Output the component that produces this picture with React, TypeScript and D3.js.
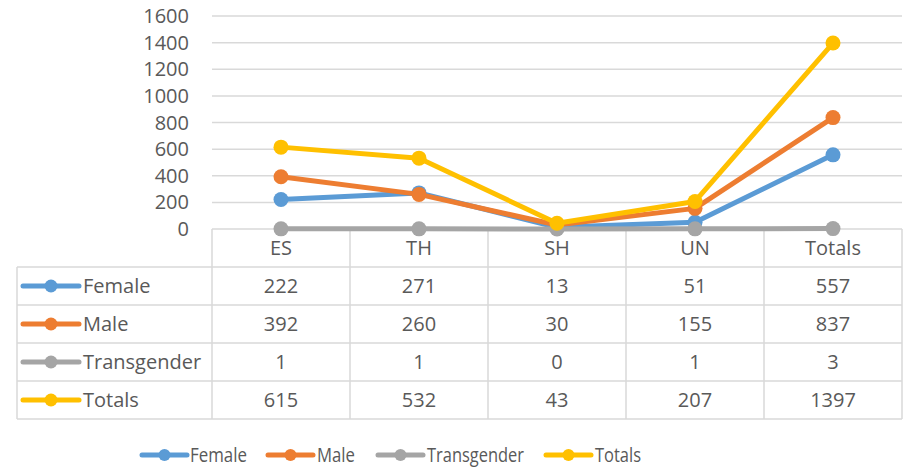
import React from "react";
import * as d3 from "d3";

const categories = ["ES", "TH", "SH", "UN", "Totals"];
const seriesNames = ["Female", "Male", "Transgender", "Totals"];
const female = [222, 271, 13, 51, 557];
const male = [392, 260, 30, 155, 837];
const transgender = [1, 1, 0, 1, 3];
const totals = [615, 532, 43, 207, 1397];
const yTicks = [0, 200, 400, 600, 800, 1000, 1200, 1400, 1600];
const colors = ["#5B9BD5", "#ED7D31", "#A5A5A5", "#FFC000"];

const W = 909;
const H = 471;
const FONT = "'Open Sans', sans-serif";
const TEXT = "#595959";
const GRID = "#D9D9D9";

export default function App() {
  const series = [female, male, transgender, totals];
  const x = d3.scaleBand<string>().domain(categories).range([212, 902]);
  const y = d3.scaleLinear().domain([0, 1600]).range([229, 16]);
  const line = d3
    .line<number>()
    .x((_, i) => (x(categories[i]) as number) + x.bandwidth() / 2)
    .y((d) => y(d));

  const headerTop = 229;
  const tableTop = 267;
  const rowH = 38;
  const tableLeft = 17;
  const tableRight = 902;
  const tableBottom = tableTop + rowH * series.length;

  const legendItems = [
    { x0: 142, tx: 190, tl: 57 },
    { x0: 268, tx: 317, tl: 38 },
    { x0: 378, tx: 427, tl: 97 },
    { x0: 546, tx: 595, tl: 46 },
  ];

  return (
    <div style={{ position: "absolute", left: 0, top: 0 }}>
      <svg width={W} height={H} style={{ display: "block", background: "#fff" }}>
        {yTicks.map((t) => (
          <line key={"g" + t} x1={212} x2={902} y1={y(t)} y2={y(t)} stroke={GRID} strokeWidth={1.5} />
        ))}
        {yTicks.map((t) => (
          <text
            key={"yl" + t}
            x={189}
            y={y(t)}
            dy="0.35em"
            textAnchor="end"
            fontFamily={FONT}
            fontSize={20}
            fill={TEXT}
          >
            {t}
          </text>
        ))}
        <g stroke={GRID} strokeWidth={1.5} fill="none">
          {categories.map((c, i) => (
            <line key={"v" + i} x1={x(c)} x2={x(c)} y1={headerTop} y2={tableBottom} />
          ))}
          <line x1={tableRight} x2={tableRight} y1={headerTop} y2={tableBottom} />
          <line x1={tableLeft} x2={tableLeft} y1={tableTop} y2={tableBottom} />
          {d3.range(series.length + 1).map((i) => (
            <line key={"h" + i} x1={tableLeft} x2={tableRight} y1={tableTop + i * rowH} y2={tableTop + i * rowH} />
          ))}
        </g>
        {categories.map((c) => (
          <text
            key={"c" + c}
            x={(x(c) as number) + x.bandwidth() / 2}
            y={(headerTop + tableTop) / 2}
            dy="0.35em"
            textAnchor="middle"
            fontFamily={FONT}
            fontSize={20}
            fill={TEXT}
          >
            {c}
          </text>
        ))}
        {series.map((s, si) => {
          const cy = tableTop + si * rowH + rowH / 2;
          return (
            <g key={"r" + si}>
              <line x1={23} x2={79} y1={cy} y2={cy} stroke={colors[si]} strokeWidth={5} strokeLinecap="round" />
              <circle cx={51} cy={cy} r={6.5} fill={colors[si]} />
              <text x={83} y={cy} dy="0.35em" fontFamily={FONT} fontSize={20} fill={TEXT}>
                {seriesNames[si]}
              </text>
              {s.map((v, i) => (
                <text
                  key={"v" + i}
                  x={(x(categories[i]) as number) + x.bandwidth() / 2}
                  y={cy}
                  dy="0.35em"
                  textAnchor="middle"
                  fontFamily={FONT}
                  fontSize={20}
                  fill={TEXT}
                >
                  {v}
                </text>
              ))}
            </g>
          );
        })}
        {series.map((s, si) => (
          <g key={"s" + si}>
            <path d={line(s) || ""} fill="none" stroke={colors[si]} strokeWidth={5} strokeLinejoin="round" />
            {s.map((v, i) => (
              <circle
                key={"m" + i}
                cx={(x(categories[i]) as number) + x.bandwidth() / 2}
                cy={y(v)}
                r={7.5}
                fill={colors[si]}
              />
            ))}
          </g>
        ))}
        {legendItems.map((it, si) => (
          <g key={"l" + si}>
            <line x1={it.x0} x2={it.x0 + 45} y1={455} y2={455} stroke={colors[si]} strokeWidth={5} strokeLinecap="round" />
            <circle cx={it.x0 + 22.5} cy={455} r={6} fill={colors[si]} />
            <text
              x={it.tx}
              y={455}
              dy="0.35em"
              fontFamily={FONT}
              fontSize={20}
              fill={TEXT}
              textLength={it.tl}
              lengthAdjust="spacingAndGlyphs"
            >
              {seriesNames[si]}
            </text>
          </g>
        ))}
      </svg>
    </div>
  );
}
